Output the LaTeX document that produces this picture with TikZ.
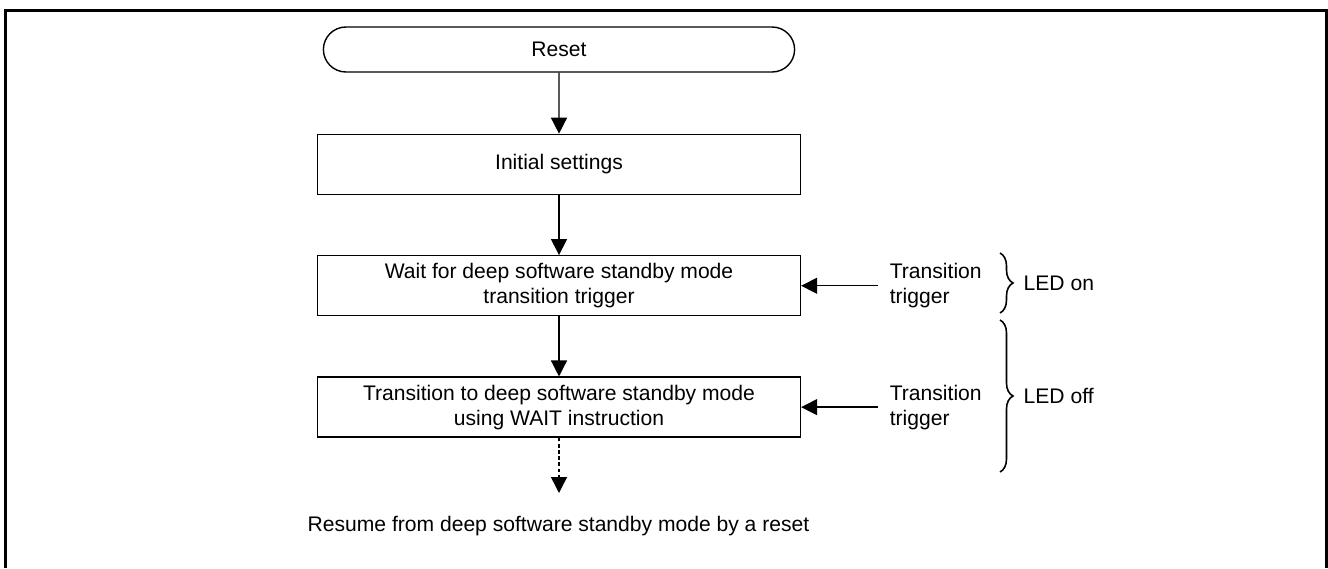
\documentclass[tikz,border=0pt]{standalone}
\usepackage{fontspec}
\setmainfont{Liberation Sans}
\usetikzlibrary{
  positioning,
  arrows.meta,
  shapes.misc,
  decorations.pathreplacing
}
\tikzset{
  >={Triangle[length=0.32cm, width=0.32cm]},
  x=0.02cm, y=-0.02cm,
  font=\fontsize{12}{14.2}\selectfont,
  every node/.style={line width=0.8pt},
  terminal/.style={draw, rounded rectangle, minimum width=9.66cm, minimum height=0.9cm},
  process/.style={draw, align=center, minimum width=9.66cm, minimum height=1.2cm},
  trigger/.style={align=left, anchor=west, inner xsep=0.22cm, inner ysep=0pt},
  flow/.style={->, line width=0.8pt},
  ledbrace/.style={decorate, line width=0.9pt, decoration={brace, amplitude=0.26cm}},
  led/.style={anchor=west, inner sep=0pt, xshift=0.46cm}
}

\begin{document}
\begin{tikzpicture}
  \useasboundingbox (0,0) rectangle (1328,568);
  \draw[line width=1.7pt] (5.5,568) -- (5.5,10.5) -- (1326.5,10.5) -- (1326.5,568);

  \node[terminal] (reset) at (559,49.5) {Reset};
  \node[process, below=1.22cm of reset] (init) {Initial settings};
  \node[process, below=1.2cm of init] (wait) {Wait for deep software standby mode\\transition trigger};
  \node[process, below=1.2cm of wait] (trans) {Transition to deep software standby mode\\using WAIT instruction};
  \coordinate (resumeend) at (559,493);
  \node[anchor=base west, inner sep=0pt] (resume) at (307,531) {Resume from deep software standby mode by a reset};

  \node[trigger, right=1.54cm of wait] (trig1) {Transition\\trigger};
  \node[trigger, right=1.54cm of trans] (trig2) {Transition\\trigger};

  \draw[flow] (reset) -- (init);
  \draw[flow] (init) -- (wait);
  \draw[flow] (wait) -- (trans);
  \draw[flow, dash pattern=on 2pt off 1.5pt] (trans) -- (resumeend);
  \draw[flow] (trig1.west) -- (wait.east);
  \draw[flow] (trig2.west) -- (trans.east);

  \draw[ledbrace] (1000,253) -- node[led] {LED on} (1000,313);
  \draw[ledbrace] (1000,320) -- node[led] {LED off} (1000,472);
\end{tikzpicture}
\end{document}
